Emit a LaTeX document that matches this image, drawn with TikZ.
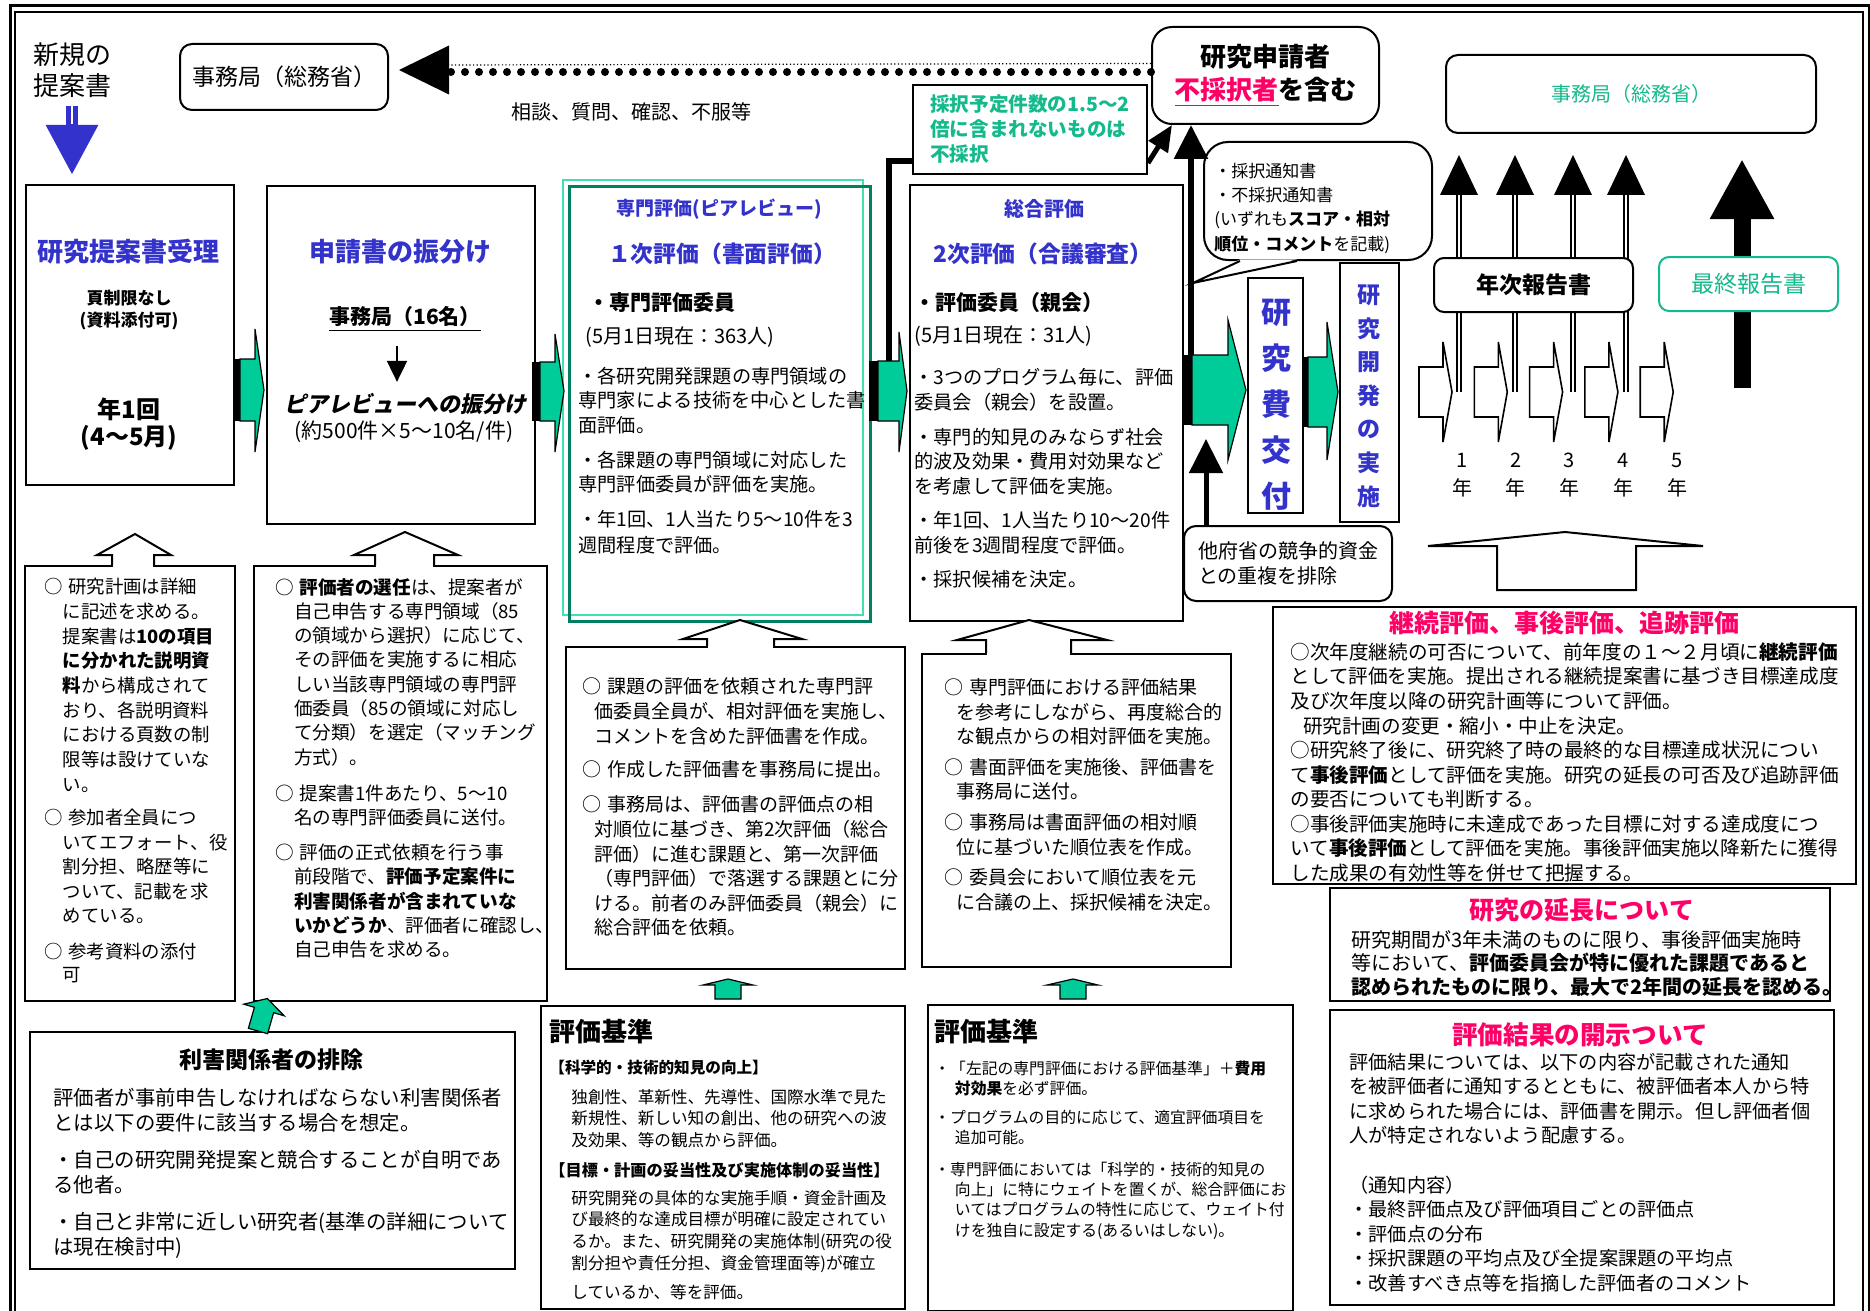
\documentclass[tikz,border=0pt]{standalone}
\usepackage{fontspec}
\setmainfont{Noto Sans CJK JP}
\newfontfamily\slantjp{Noto Sans CJK JP}[FakeSlant=0.2]
\usetikzlibrary{arrows.meta,positioning}

\definecolor{myblue}{RGB}{51,51,204}
\definecolor{arrgreen}{RGB}{0,204,153}
\definecolor{txtgreen}{RGB}{20,185,140}
\definecolor{pinkred}{RGB}{255,0,102}
\definecolor{darkgreen}{RGB}{0,128,96}
\definecolor{lightgreen}{RGB}{64,224,176}

\newcommand\fsz[2]{\fontsize{#1}{#2}\selectfont}
\newcommand\indt{\hspace*{1em}}
\newcommand\indc{\hspace*{0.63em}}

\begin{document}
\begin{tikzpicture}[x=0.5pt, y=-0.5pt,
    box/.style={draw, line width=1pt, fill=white, anchor=north west, inner sep=0pt},
    rbox/.style={box, rounded corners=6pt},
    txt/.style={anchor=north west, inner sep=0pt, align=left},
    ctr/.style={inner sep=0pt, align=center},
    lft/.style={anchor=west, inner sep=0pt},
    garrow/.style={fill=arrgreen, draw=black, line width=0.6pt},
    hollow/.style={fill=white, draw=black, line width=1pt},
    blk/.style={line width=3pt, -{Triangle[width=16.5pt,length=17pt]}}
    ]
    \useasboundingbox (0,0) rectangle (1870,1311);
    % frame
    \draw[line width=1.5pt] (10,6) rectangle (1869,1340);
    \draw[line width=0.75pt] (15,12) rectangle (1863,1335);

    % top row
    \node[ctr, font=\fsz{13}{15.5}] (newprop) at (72,70) {新規の\\提案書};
    \node[rbox, minimum width=104pt, minimum height=33pt, font=\fsz{11.5}{14}] (office1) at (179,43) {事務局（総務省）};
    \node[rbox, rounded corners=10pt, minimum width=113.5pt, minimum height=48.5pt, align=center, font=\fsz{13}{16.5}\bfseries] (apply) at (1151,26) {研究申請者\\\textcolor{pinkred}{\underline{不採択者}}を含む};
    \node[ctr, font=\fsz{10}{12}] (consult) at (631,112) {相談、質問、確認、不服等};
    \node[box, minimum width=117pt, minimum height=44.5pt, align=left, text=txtgreen, font=\fsz{9.8}{12.5}\bfseries] (reject) at (912,84) {採択予定件数の1.5～2\\倍に含まれないものは\\不採択};
    \node[rbox, rounded corners=12pt, minimum width=114pt, minimum height=59pt] (notice) at (1203,141) {};
    \node[txt, font=\fsz{8.5}{12.15}] (noticetxt) at (1214,162.5) {・採択通知書\\・不採択通知書\\(いずれも\textbf{スコア・相対}\\\textbf{順位・コメント}を記載)};
    \node[rbox, minimum width=185pt, minimum height=39pt, text=txtgreen, font=\fsz{10}{12}] (office2) at (1445,54) {事務局（総務省）};

    % dotted line back to the office
    \draw[line width=0.6pt, dash pattern=on 0.6pt off 1.2pt] ([yshift=6pt]apply.west) -- ([xshift=30pt,yshift=6pt]office1.east);
    \draw[line width=4pt, line cap=round, dash pattern=on 0pt off 7pt] ([yshift=1.75pt]apply.west) -- ([xshift=30pt,yshift=2.5pt]office1.east);
    \fill ([xshift=5pt,yshift=3.5pt]office1.east) -- ++(25pt,12.25pt) -- ++(0pt,-24.5pt) -- cycle;

    % main row
    \node[box, minimum width=104pt, minimum height=150pt] (recv) at (25,184) {};
    \node[box, minimum width=134pt, minimum height=169pt] (assign) at (266,185) {};
    \draw[lightgreen, line width=1.2pt] (563,180) rectangle (863,615);
    \node[box, draw=darkgreen, line width=1.5pt, fill=none, minimum width=150.5pt, minimum height=217.5pt] (peer) at (568,185) {};
    \node[box, minimum width=136.5pt, minimum height=218pt] (total) at (909,184) {};
    \node[box, minimum width=27.5pt, minimum height=117.5pt] (fund) at (1247,277) {};
    \node[box, minimum width=29.5pt, minimum height=129.5pt] (impl) at (1339,262) {};
    \node[rbox, minimum width=104pt, minimum height=37.5pt, align=left, font=\fsz{10}{12.5}] (other) at (1183,525) {他府省の競争的資金\\との重複を排除};

    \draw[myblue, line width=6pt, -{Triangle[width=24.5pt,length=25pt]}, shorten <=4pt, shorten >=4.5pt] (newprop.south) -- (newprop.south |- recv.north);
    \draw[white, line width=0.8pt] ([yshift=-4pt]newprop.south) -- ++(0,18);

    \node[ctr, text=myblue, font=\fsz{13}{15}\bfseries] (recvtitle) at (129,252) {研究提案書受理};
    \node[ctr, font=\fsz{8.5}{11}\bfseries] (recvpage) at (129,310) {頁制限なし\\(資料添付可)};
    \node[ctr, font=\fsz{12}{13.5}\bfseries] (recvtime) at (129,424) {年1回\\(4～5月)};

    \node[ctr, text=myblue, font=\fsz{13}{15}\bfseries] (assigntitle) at (400,252) {申請書の振分け};
    \node[ctr, font=\fsz{10.5}{12}\bfseries] (staff) at (405,319) {\underline{事務局（16名）}};
    \node[ctr, font=\fsz{11}{13}\slantjp\bfseries] (pairing) at (405,404) {ピアレビューへの振分け};
    \node[ctr, font=\fsz{10.5}{12}] (pairnum) at (404,432) {(約500件×5～10名/件)};
    \draw[line width=1pt, -{Triangle[width=10pt,length=10.5pt]}] ([xshift=-4pt,yshift=-7pt]staff.south) -- ([xshift=-4pt,yshift=5.5pt]pairing.north);

    \node[ctr, text=myblue, font=\fsz{9.5}{11}\bfseries] (peertag) at (719,209) {専門評価(ピアレビュー)};
    \node[ctr, text=myblue, font=\fsz{11.4}{13}\bfseries] (peertitle) at (722,254) {１次評価（書面評価）};
    \node[lft, font=\fsz{10.5}{12}\bfseries] (peermem) at (588,303) {・専門評価委員};
    \node[lft, font=\fsz{10}{12}] (peernum) at (585,337) {(5月1日現在：363人)};
    \node[txt, font=\fsz{9.6}{12.25}] (peer1) at (578,366.4) {・各研究開発課題の専門領域の\\専門家による技術を中心とした書\\面評価。};
    \node[txt, font=\fsz{9.6}{12}] (peer2) at (578,450.4) {・各課題の専門領域に対応した\\専門評価委員が評価を実施。};
    \node[txt, font=\fsz{9.6}{13}] (peer3) at (578,509.4) {・年1回、1人当たり5～10件を3\\週間程度で評価。};

    \node[ctr, text=myblue, font=\fsz{10}{12}\bfseries] (totaltag) at (1044,209) {総合評価};
    \node[ctr, text=myblue, font=\fsz{11.4}{13}\bfseries] (totaltitle) at (1043,254) {2次評価（合議審査）};
    \node[lft, font=\fsz{10.5}{12}\bfseries] (totalmem) at (914,303) {・評価委員（親会）};
    \node[lft, font=\fsz{10}{12}] (totalnum) at (914,336) {(5月1日現在：31人)};
    \node[txt, font=\fsz{9.6}{12.5}] (total1) at (914,368.4) {・3つのプログラム毎に、評価\\委員会（親会）を設置。};
    \node[txt, font=\fsz{9.6}{12.25}] (total2) at (914,427.4) {・専門的知見のみならず社会\\的波及効果・費用対効果など\\を考慮して評価を実施。};
    \node[txt, font=\fsz{9.6}{12.5}] (total3) at (914,510.4) {・年1回、1人当たり10～20件\\前後を3週間程度で評価。};
    \node[txt, font=\fsz{9.6}{12}] (total4) at (914,570.4) {・採択候補を決定。};

    \node[ctr, text=myblue, font=\fsz{15}{23}\bfseries] (fundtxt) at (1276,405) {研\\究\\費\\交\\付};
    \node[ctr, text=myblue, font=\fsz{11.5}{16.8}\bfseries] (impltxt) at (1369,396) {研\\究\\開\\発\\の\\実\\施};

    % green block arrows
    \fill (233,359) rectangle (240,421);
    \draw[garrow] (240,359) -- (255,359) -- (255,329) -- (264,390) -- (255,452) -- (255,421) -- (240,421) -- cycle;
    \fill (532,362) rectangle (540,421);
    \draw[garrow] (540,362) -- (555,362) -- (555,334) -- (564,391) -- (555,452) -- (555,421) -- (540,421) -- cycle;
    \coordinate (cbranch) at (889,362);
    \draw[line width=3pt] (cbranch) |- ([yshift=-15.75pt]reject.west);
    \fill (869,361) rectangle (878,421);
    \draw[garrow] (878,361) -- (899,361) -- (899,332) -- (907,391) -- (899,452) -- (899,421) -- (878,421) -- cycle;
    \coordinate (dbranch) at (1191,357);
    \draw[blk] (dbranch) -- (dbranch |- apply.south);
    \draw[line width=2.5pt, -{Triangle[width=11pt,length=13pt]}] ([yshift=-16.75pt]reject.east) -- ([xshift=10.5pt]apply.south west);
    \fill (1182,355) rectangle (1192,425);
    \draw[garrow] (1192,355) -- (1228,355) -- (1228,320) -- (1246,390) -- (1228,460) -- (1228,425) -- (1192,425) -- cycle;
    \fill (1302,357) rectangle (1308,427);
    \draw[garrow] (1308,357) -- (1327,357) -- (1327,322) -- (1338,392) -- (1327,460) -- (1327,427) -- (1308,427) -- cycle;
    \coordinate (dlow) at (1206,439);
    \draw[blk, line width=2.5pt] ([xshift=11.5pt]other.north west) -- (dlow);

    % speech bubble tail
    \coordinate (noticetip) at (1193,283);
    \fill[white] ([xshift=18.5pt,yshift=0.8pt]notice.south west) -- (noticetip) -- ([xshift=47pt,yshift=0.8pt]notice.south west) -- cycle;
    \draw[line width=1pt] ([xshift=18.5pt]notice.south west) -- (noticetip) -- ([xshift=47pt]notice.south west);

    % reports per year
    \foreach \x in {1459,1515,1573,1626}{
        \draw[double, line width=0.8pt, double distance=1.2pt] (\x,392) -- (\x,195);
        \fill (\x,155) -- (\x-19,195) -- (\x+19,195) -- cycle;
    }
    \coordinate (finalbar) at (1742,388);
    \draw[line width=8.5pt, -{Triangle[width=30pt,length=30pt]}, shorten >=12.5pt] (finalbar) -- (finalbar |- office2.south);
    \node[rbox, rounded corners=5pt, minimum width=99.5pt, minimum height=27pt, font=\fsz{11.5}{13}\bfseries] (annual) at (1433,257) {年次報告書};
    \node[rbox, rounded corners=5pt, draw=txtgreen, text=txtgreen, minimum width=89.5pt, minimum height=27pt, font=\fsz{11.5}{13}] (final) at (1658,256) {最終報告書};
    \foreach \i in {0,...,4}
        \draw[line width=0.8pt, fill=white] (1419+55.3*\i,367) -- ++(24,0) -- ++(0,-25) -- ++(9,50) -- ++(-9,50) -- ++(0,-25) -- ++(-24,0) -- cycle;
    \foreach \i [count=\n] in {0,...,4}{
        \node[inner sep=0pt, font=\fsz{10}{12}] (yr\n) at (1462+53.75*\i,460) {\n};
        \node[inner sep=0pt, font=\fsz{10}{12}] (yrl\n) at (1462+53.75*\i,488) {年};
    }
    \draw[hollow] (1497,590) -- (1497,546) -- (1428,546) -- (1565,532) -- (1703,546) -- (1636,546) -- (1636,590) -- cycle;

    % lower notes
    \node[box, minimum width=105pt, minimum height=217.5pt] (noteA) at (24,565) {};
    \node[box, minimum width=146.5pt, minimum height=217.5pt] (noteB) at (253,565) {};
    \node[box, minimum width=169.5pt, minimum height=161pt] (noteC) at (565,646) {};
    \node[box, minimum width=154.5pt, minimum height=156.5pt] (noteD) at (921,653) {};
    \node[box, minimum width=242.5pt, minimum height=118.5pt] (conflict) at (29,1031) {};
    \node[box, minimum width=182pt, minimum height=151.5pt] (critA) at (540,1005) {};
    \node[box, minimum width=182.5pt, minimum height=153pt] (critB) at (927,1004) {};
    \node[box, minimum width=291.5pt, minimum height=138.5pt] (cont) at (1272,606) {};
    \node[box, minimum width=250pt, minimum height=56.5pt] (ext) at (1329,887) {};
    \node[box, minimum width=252pt, minimum height=147.5pt] (disc) at (1329,1009) {};

    % hollow arrows into the boxes above
    \fill[white] (113,566.5) rectangle (153,560);
    \draw[hollow] (112,565) -- (112,555) -- (97,555) -- (135,534) -- (171,555) -- (154,555) -- (154,565);
    \fill[white] (376,566.5) rectangle (433,560);
    \draw[hollow] (375,565) -- (375,555) -- (354,555) -- (405,532) -- (458,555) -- (434,555) -- (434,565);
    \fill[white] (708,647.5) rectangle (773,641);
    \draw[hollow] (707,646) -- (707,639) -- (683,639) -- (740,620) -- (802,639) -- (774,639) -- (774,646);
    \fill[white] (987,654.5) rectangle (1070,648);
    \draw[hollow] (986,653) -- (986,640) -- (957,640) -- (1029,620) -- (1107,640) -- (1071,640) -- (1071,653);

    \draw[garrow] (715,999) -- (715,985) -- (703,985) -- (728,979) -- (753,985) -- (741,985) -- (741,999) -- cycle;
    \draw[garrow] (1060,999) -- (1060,985) -- (1047,985) -- (1073,979) -- (1098,985) -- (1086,985) -- (1086,999) -- cycle;
    \draw[garrow] (248.4,1028.3) -- (254.4,1007.3) -- (243.8,1004.2) -- (267.3,998.5) -- (284.2,1015.8) -- (273.6,1012.7) -- (267.6,1033.7) -- cycle;

    \node[txt, font=\fsz{9.2}{12.35}] (a1) at (44,577.8) {○\hspace{0.3em}研究計画は詳細\\\indt に記述を求める。\\\indt 提案書は\textbf{10の項目}\\\indt\textbf{に分かれた説明資}\\\indt\textbf{料}から構成されて\\\indt おり、各説明資料\\\indt における頁数の制\\\indt 限等は設けていな\\\indt い。};
    \node[txt, font=\fsz{9.2}{12.25}] (a2) at (44,808.8) {○\hspace{0.3em}参加者全員につ\\\indt いてエフォート、役\\\indt 割分担、略歴等に\\\indt ついて、記載を求\\\indt めている。};
    \node[txt, font=\fsz{9.2}{11.5}] (a3) at (44,942.8) {○\hspace{0.3em}参考資料の添付\\\indt 可};

    \node[txt, font=\fsz{9.3}{12.15}] (b1) at (275,577.7) {○\hspace{0.3em}\textbf{評価者の選任}は、提案者が\\\indt 自己申告する専門領域（85\\\indt の領域から選択）に応じて、\\\indt その評価を実施するに相応\\\indt しい当該専門領域の専門評\\\indt 価委員（85の領域に対応し\\\indt て分類）を選定（マッチング\\\indt 方式）。};
    \node[txt, font=\fsz{9.3}{12}] (b2) at (275,784.7) {○\hspace{0.3em}提案書1件あたり、5～10\\\indt 名の専門評価委員に送付。};
    \node[txt, font=\fsz{9.3}{12.1}] (b3) at (275,843.7) {○\hspace{0.3em}評価の正式依頼を行う事\\\indt 前段階で、\textbf{評価予定案件に}\\\indt\textbf{利害関係者が含まれていな}\\\indt\textbf{いかどうか}、評価者に確認し、\\\indt 自己申告を求める。};

    \node[txt, font=\fsz{9.5}{12.5}] (c1) at (582,677.5) {○\hspace{0.3em}課題の評価を依頼された専門評\\\indc 価委員全員が、相対評価を実施し、\\\indc コメントを含めた評価書を作成。};
    \node[txt, font=\fsz{9.5}{12}] (c2) at (582,760.5) {○\hspace{0.3em}作成した評価書を事務局に提出。};
    \node[txt, font=\fsz{9.5}{12.3}] (c3) at (582,795.5) {○\hspace{0.3em}事務局は、評価書の評価点の相\\\indc 対順位に基づき、第2次評価（総合\\\indc 評価）に進む課題と、第一次評価\\\indc （専門評価）で落選する課題とに分\\\indc ける。前者のみ評価委員（親会）に\\\indc 総合評価を依頼。};

    \node[txt, font=\fsz{9.5}{12.25}] (d1) at (944,678.5) {○\hspace{0.3em}専門評価における評価結果\\\indc を参考にしながら、再度総合的\\\indc な観点からの相対評価を実施。};
    \node[txt, font=\fsz{9.5}{12}] (d2) at (944,758.5) {○\hspace{0.3em}書面評価を実施後、評価書を\\\indc 事務局に送付。};
    \node[txt, font=\fsz{9.5}{12.5}] (d3) at (944,813.5) {○\hspace{0.3em}事務局は書面評価の相対順\\\indc 位に基づいた順位表を作成。};
    \node[txt, font=\fsz{9.5}{12.5}] (d4) at (944,868.5) {○\hspace{0.3em}委員会において順位表を元\\\indc に合議の上、採択候補を決定。};

    % bottom row
    \node[ctr, font=\fsz{11.5}{13}\bfseries] (conflicttitle) at (271,1060) {利害関係者の排除};
    \node[txt, font=\fsz{10.2}{12.5}] (conflicttext) at (53,1087.8) {評価者が事前申告しなければならない利害関係者\\とは以下の要件に該当する場合を想定。\\[6pt]・自己の研究開発提案と競合することが自明であ\\る他者。\\[6pt]・自己と非常に近しい研究者(基準の詳細について\\は現在検討中)};

    \node[lft, font=\fsz{13}{15}\bfseries] (critAtitle) at (549,1032) {評価基準};
    \node[lft, font=\fsz{7.8}{10}\bfseries] (critAsub1) at (549,1068) {【科学的・技術的知見の向上】};
    \node[txt, font=\fsz{8.3}{10.75}] (critAtext1) at (571,1088.7) {独創性、革新性、先導性、国際水準で見た\\新規性、新しい知の創出、他の研究への波\\及効果、等の観点から評価。};
    \node[lft, font=\fsz{8.1}{10}\bfseries] (critAsub2) at (549,1170) {【目標・計画の妥当性及び実施体制の妥当性】};
    \node[txt, font=\fsz{8.3}{10.85}] (critAtext2) at (571,1189.7) {研究開発の具体的な実施手順・資金計画及\\び最終的な達成目標が明確に設定されてい\\るか。また、研究開発の実施体制(研究の役\\割分担や責任分担、資金管理面等)が確立\\[3.6pt]しているか、等を評価。};

    \node[lft, font=\fsz{13}{15}\bfseries] (critBtitle) at (934,1032) {評価基準};
    \node[txt, font=\fsz{7.9}{10.1}] (critBtext) at (934,1060.1) {・「左記の専門評価における評価基準」＋\textbf{費用}\\\hspace*{1.3em}\textbf{対効果}を必ず評価。\\[4.5pt]・プログラムの目的に応じて、適宜評価項目を\\\hspace*{1.3em}追加可能。\\[5.8pt]・専門評価においては「科学的・技術的知見の\\\hspace*{1.3em}向上」に特にウェイトを置くが、総合評価にお\\\hspace*{1.3em}いてはプログラムの特性に応じて、ウェイト付\\\hspace*{1.3em}けを独自に設定する(あるいはしない)。};

    \node[ctr, text=pinkred, font=\fsz{12.5}{14}\bfseries] (conttitle) at (1564,623) {継続評価、事後評価、追跡評価};
    \node[txt, font=\fsz{9.8}{12.28}] (conttext) at (1290,642.2) {○次年度継続の可否について、前年度の１～２月頃に\textbf{継続評価}\\として評価を実施。提出される継続提案書に基づき目標達成度\\及び次年度以降の研究計画等について評価。\\\hspace*{0.65em}研究計画の変更・縮小・中止を決定。\\○研究終了後に、研究終了時の最終的な目標達成状況につい\\て\textbf{事後評価}として評価を実施。研究の延長の可否及び追跡評価\\の要否についても判断する。\\○事後評価実施時に未達成であった目標に対する達成度につ\\いて\textbf{事後評価}として評価を実施。事後評価実施以降新たに獲得\\した成果の有効性等を併せて把握する。};

    \node[ctr, text=pinkred, font=\fsz{12.5}{14}\bfseries] (exttitle) at (1582,910) {研究の延長について};
    \node[txt, font=\fsz{10}{11.75}] (exttext) at (1351,930) {研究期間が3年未満のものに限り、事後評価実施時\\等において、\textbf{評価委員会が特に優れた課題であると}\\\textbf{認められたものに限り、最大で2年間の延長を認める。}};

    \node[ctr, text=pinkred, font=\fsz{12.8}{14}\bfseries] (disctitle) at (1580,1035) {評価結果の開示ついて};
    \node[txt, font=\fsz{9.6}{12.3}] (disctext) at (1349,1052.4) {評価結果については、以下の内容が記載された通知\\を被評価者に通知するとともに、被評価者本人から特\\に求められた場合には、評価書を開示。但し評価者個\\人が特定されないよう配慮する。\\[12.3pt]（通知内容）\\・最終評価点及び評価項目ごとの評価点\\・評価点の分布\\・採択課題の平均点及び全提案課題の平均点\\・改善すべき点等を指摘した評価者のコメント};
\end{tikzpicture}
\end{document}
